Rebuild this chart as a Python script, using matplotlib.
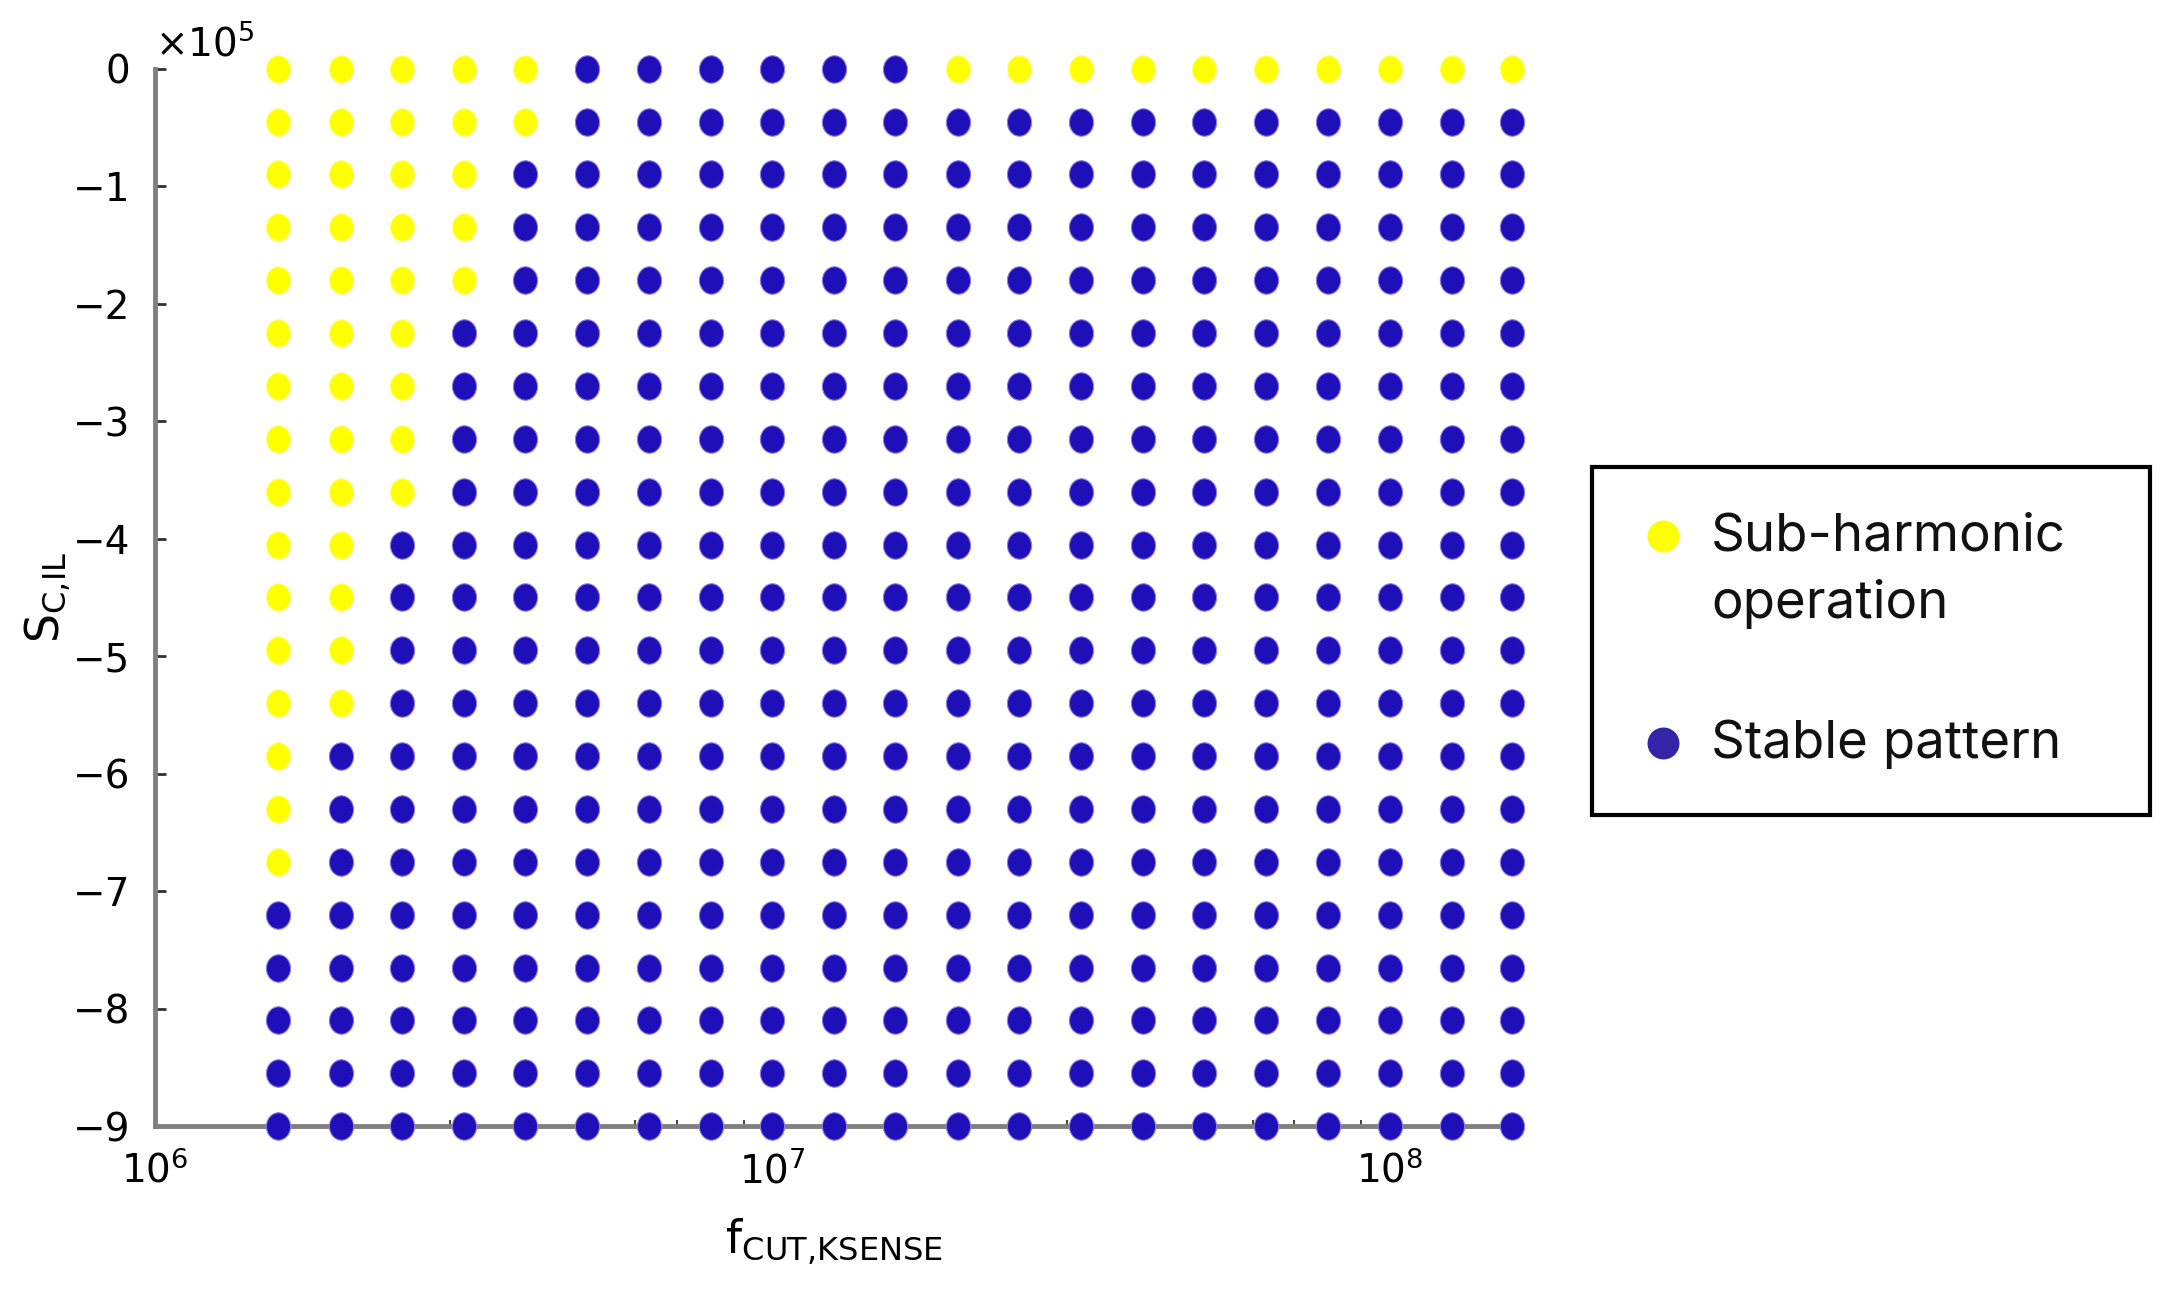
import numpy as np
import matplotlib.pyplot as plt
from matplotlib.path import Path
from matplotlib.ticker import FuncFormatter, LogLocator, NullFormatter, FixedLocator
from matplotlib.lines import Line2D
from matplotlib.patches import Rectangle

# sweep grid
f_cut = [1.58e6, 2.0e6, 2.51e6, 3.16e6, 3.98e6, 5.01e6, 6.31e6, 7.94e6, 1.0e7,
         1.26e7, 1.58e7, 2.0e7, 2.51e7, 3.16e7, 3.98e7, 5.01e7, 6.31e7, 7.94e7,
         1.0e8, 1.26e8, 1.58e8]
s_cil = [0, -0.45e5, -0.9e5, -1.35e5, -1.8e5, -2.25e5, -2.7e5, -3.15e5, -3.6e5,
         -4.05e5, -4.5e5, -4.95e5, -5.4e5, -5.85e5, -6.3e5, -6.75e5, -7.2e5,
         -7.65e5, -8.1e5, -8.55e5, -9.0e5]
# how many points from the top (S = 0) of each column are sub-harmonic
n_subharm = [16, 13, 9, 5, 2, 0, 0, 0, 0, 0, 0, 1, 1, 1, 1, 1, 1, 1, 1, 1, 1]

labels = ['Sub-harmonic\noperation', 'Stable pattern']
dot_colors = ['#ffff00', '#1e0fb9']
legend_colors = ['#ffff00', '#3324a8']

# split the grid into the two classes
sub_x, sub_y, st_x, st_y = [], [], [], []
for i, f in enumerate(f_cut):
    for j, s in enumerate(s_cil):
        if j < n_subharm[i]:
            sub_x.append(f)
            sub_y.append(s)
        else:
            st_x.append(f)
            st_y.append(s)

# slightly tall dots like the original export
circ = Path.unit_circle()
ellipse = Path(circ.vertices * np.array([0.88, 1.0]), circ.codes)

fig = plt.figure(figsize=(21.66, 12.96), dpi=100)
ax = fig.add_axes([0.0716, 0.131, 0.627, 0.816])

ax.scatter(st_x, st_y, s=390, marker=ellipse, c=dot_colors[1],
           edgecolors='#8a7ce0', linewidths=0.8, zorder=3, clip_on=False)
ax.scatter(sub_x, sub_y, s=390, marker=ellipse, c=dot_colors[0],
           edgecolors='#ffff80', linewidths=0.8, zorder=3, clip_on=False)

ax.set_xscale('log')
ax.set_xlim(1e6, 10 ** 8.2)
ax.set_ylim(-9e5, 0)

ax.set_yticks(np.arange(-9e5, 1, 1e5))
ax.yaxis.set_major_formatter(FuncFormatter(lambda v, p: f'{v / 1e5:.0f}'.replace('-', '\u2212')))
ax.xaxis.set_major_locator(FixedLocator([1e6, 1e7, 1e8]))
ax.xaxis.set_minor_locator(LogLocator(base=10, subs=np.arange(2, 10)))
ax.xaxis.set_minor_formatter(NullFormatter())

for side in ['top', 'right']:
    ax.spines[side].set_visible(False)
for side in ['left', 'bottom']:
    ax.spines[side].set_color('#808080')
    ax.spines[side].set_linewidth(3.5)

ax.tick_params(axis='both', which='major', direction='in', length=8, width=2,
               color='#303030', labelsize=28)
ax.tick_params(axis='y', pad=18)
ax.tick_params(axis='x', pad=18)
ax.tick_params(axis='x', which='minor', direction='in', length=4, width=1.2, color='#202020')

ax.text(0.0, 1.005, r'$\times10^{5}$', transform=ax.transAxes, fontsize=28,
        ha='left', va='bottom')

ax.set_xlabel(r'$\mathregular{f_{CUT{,}KSENSE}}$', fontsize=33, labelpad=18)
ax.set_ylabel(r'$\mathregular{S_{C{,}IL}}$', fontsize=33, labelpad=0)

# legend box drawn by hand so the marker sits on the first text line
fig.patches.append(Rectangle((0.735, 0.371), 0.2576, 0.2685, transform=fig.transFigure,
                             fill=False, edgecolor='black', linewidth=3))
fig.lines.append(Line2D([0.768], [0.5864], transform=fig.transFigure, marker='o',
                        markersize=22, color=legend_colors[0], linestyle='none'))
fig.lines.append(Line2D([0.768], [0.4267], transform=fig.transFigure, marker='o',
                        markersize=22, color=legend_colors[1], linestyle='none'))
fig.text(0.790, 0.5595, labels[0], fontsize=38, family='Inter', va='center',
         ha='left', linespacing=1.45, color='#111111')
fig.text(0.790, 0.4255, labels[1], fontsize=38, family='Inter', va='center',
         ha='left', color='#111111')

fig.savefig('out.png', dpi=100)
